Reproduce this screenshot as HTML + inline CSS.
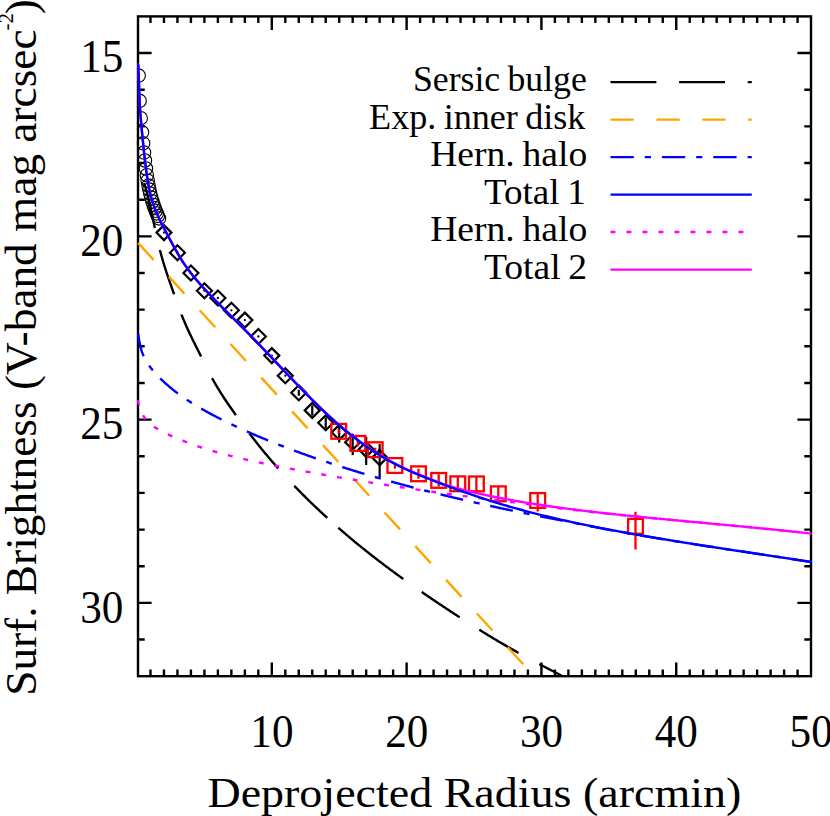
<!DOCTYPE html>
<html><head><meta charset="utf-8"><title>Surface brightness profile</title><style>html,body{margin:0;padding:0;background:#fff}</style></head><body>
<svg width="830" height="816" viewBox="0 0 830 816" style="display:block;font-family:'Liberation Serif',serif">
<rect width="830" height="816" fill="#fff"/>
<defs><clipPath id="cp"><rect x="136.9" y="16.4" width="675.2" height="659.8000000000001"/></clipPath></defs>
<g stroke="#000" stroke-width="2.4" fill="none">
<rect x="138.0" y="16.4" width="673.0" height="659.8000000000001"/>
<path d="M150.48,676.2 v-6.7 M150.48,16.4 v6.7 M163.96,676.2 v-6.7 M163.96,16.4 v6.7 M177.44,676.2 v-6.7 M177.44,16.4 v6.7 M190.92,676.2 v-6.7 M190.92,16.4 v6.7 M204.41,676.2 v-6.7 M204.41,16.4 v6.7 M217.89,676.2 v-6.7 M217.89,16.4 v6.7 M231.37,676.2 v-6.7 M231.37,16.4 v6.7 M244.85,676.2 v-6.7 M244.85,16.4 v6.7 M258.33,676.2 v-6.7 M258.33,16.4 v6.7 M271.81,676.2 v-13.6 M271.81,16.4 v13.6 M285.29,676.2 v-6.7 M285.29,16.4 v6.7 M298.77,676.2 v-6.7 M298.77,16.4 v6.7 M312.25,676.2 v-6.7 M312.25,16.4 v6.7 M325.73,676.2 v-6.7 M325.73,16.4 v6.7 M339.22,676.2 v-6.7 M339.22,16.4 v6.7 M352.70,676.2 v-6.7 M352.70,16.4 v6.7 M366.18,676.2 v-6.7 M366.18,16.4 v6.7 M379.66,676.2 v-6.7 M379.66,16.4 v6.7 M393.14,676.2 v-6.7 M393.14,16.4 v6.7 M406.62,676.2 v-13.6 M406.62,16.4 v13.6 M420.10,676.2 v-6.7 M420.10,16.4 v6.7 M433.58,676.2 v-6.7 M433.58,16.4 v6.7 M447.06,676.2 v-6.7 M447.06,16.4 v6.7 M460.54,676.2 v-6.7 M460.54,16.4 v6.7 M474.02,676.2 v-6.7 M474.02,16.4 v6.7 M487.51,676.2 v-6.7 M487.51,16.4 v6.7 M500.99,676.2 v-6.7 M500.99,16.4 v6.7 M514.47,676.2 v-6.7 M514.47,16.4 v6.7 M527.95,676.2 v-6.7 M527.95,16.4 v6.7 M541.43,676.2 v-13.6 M541.43,16.4 v13.6 M554.91,676.2 v-6.7 M554.91,16.4 v6.7 M568.39,676.2 v-6.7 M568.39,16.4 v6.7 M581.87,676.2 v-6.7 M581.87,16.4 v6.7 M595.35,676.2 v-6.7 M595.35,16.4 v6.7 M608.84,676.2 v-6.7 M608.84,16.4 v6.7 M622.32,676.2 v-6.7 M622.32,16.4 v6.7 M635.80,676.2 v-6.7 M635.80,16.4 v6.7 M649.28,676.2 v-6.7 M649.28,16.4 v6.7 M662.76,676.2 v-6.7 M662.76,16.4 v6.7 M676.24,676.2 v-13.6 M676.24,16.4 v13.6 M689.72,676.2 v-6.7 M689.72,16.4 v6.7 M703.20,676.2 v-6.7 M703.20,16.4 v6.7 M716.68,676.2 v-6.7 M716.68,16.4 v6.7 M730.16,676.2 v-6.7 M730.16,16.4 v6.7 M743.64,676.2 v-6.7 M743.64,16.4 v6.7 M757.13,676.2 v-6.7 M757.13,16.4 v6.7 M770.61,676.2 v-6.7 M770.61,16.4 v6.7 M784.09,676.2 v-6.7 M784.09,16.4 v6.7 M797.57,676.2 v-6.7 M797.57,16.4 v6.7 M138.0,53.06 h13.6 M811.0,53.06 h-13.6 M138.0,89.71 h6.7 M811.0,89.71 h-6.7 M138.0,126.37 h6.7 M811.0,126.37 h-6.7 M138.0,163.02 h6.7 M811.0,163.02 h-6.7 M138.0,199.68 h6.7 M811.0,199.68 h-6.7 M138.0,236.33 h13.6 M811.0,236.33 h-13.6 M138.0,272.99 h6.7 M811.0,272.99 h-6.7 M138.0,309.64 h6.7 M811.0,309.64 h-6.7 M138.0,346.30 h6.7 M811.0,346.30 h-6.7 M138.0,382.96 h6.7 M811.0,382.96 h-6.7 M138.0,419.61 h13.6 M811.0,419.61 h-13.6 M138.0,456.27 h6.7 M811.0,456.27 h-6.7 M138.0,492.92 h6.7 M811.0,492.92 h-6.7 M138.0,529.58 h6.7 M811.0,529.58 h-6.7 M138.0,566.23 h6.7 M811.0,566.23 h-6.7 M138.0,602.89 h13.6 M811.0,602.89 h-13.6 M138.0,639.54 h6.7 M811.0,639.54 h-6.7"/>
</g>
<g clip-path="url(#cp)" fill="none">
<g stroke="#000" stroke-width="1.1">
<circle cx="138.69" cy="75.60" r="6.7"/>
<circle cx="139.63" cy="100.80" r="6.7"/>
<circle cx="140.75" cy="118.20" r="6.7"/>
<circle cx="142.02" cy="132.30" r="6.7"/>
<circle cx="143.10" cy="143.30" r="6.7"/>
<circle cx="144.08" cy="152.60" r="6.7"/>
<circle cx="144.96" cy="160.50" r="6.7"/>
<circle cx="145.94" cy="168.50" r="6.7"/>
<circle cx="146.85" cy="175.20" r="6.7"/>
<circle cx="147.69" cy="180.70" r="6.7"/>
<circle cx="148.54" cy="185.60" r="6.7"/>
<circle cx="149.33" cy="189.60" r="6.7"/>
<circle cx="150.23" cy="193.60" r="6.7"/>
<circle cx="151.26" cy="197.60" r="6.7"/>
<circle cx="152.41" cy="201.50" r="6.7"/>
<circle cx="153.57" cy="205.00" r="6.7"/>
<circle cx="154.65" cy="208.00" r="6.7"/>
<circle cx="155.73" cy="210.80" r="6.7"/>
<circle cx="156.79" cy="213.40" r="6.7"/>
<circle cx="157.87" cy="215.90" r="6.7"/>
<circle cx="159.00" cy="218.40" r="6.7"/>
</g>
<g stroke="#000" stroke-width="2.2" stroke-linejoin="miter">
<path d="M156.46,232.60 L163.96,225.10 L171.46,232.60 L163.96,240.10 Z"/>
<circle cx="163.96" cy="232.60" r="1.15" fill="#000" stroke="none"/>
<path d="M169.94,252.70 L177.44,245.20 L184.94,252.70 L177.44,260.20 Z"/>
<circle cx="177.44" cy="252.70" r="1.15" fill="#000" stroke="none"/>
<path d="M183.42,273.00 L190.92,265.50 L198.42,273.00 L190.92,280.50 Z"/>
<circle cx="190.92" cy="273.00" r="1.15" fill="#000" stroke="none"/>
<path d="M196.91,290.70 L204.41,283.20 L211.91,290.70 L204.41,298.20 Z"/>
<circle cx="204.41" cy="290.70" r="1.15" fill="#000" stroke="none"/>
<path d="M210.39,298.00 L217.89,290.50 L225.39,298.00 L217.89,305.50 Z"/>
<circle cx="217.89" cy="298.00" r="1.15" fill="#000" stroke="none"/>
<path d="M223.87,310.30 L231.37,302.80 L238.87,310.30 L231.37,317.80 Z"/>
<circle cx="231.37" cy="310.30" r="1.15" fill="#000" stroke="none"/>
<path d="M237.35,320.10 L244.85,312.60 L252.35,320.10 L244.85,327.60 Z"/>
<circle cx="244.85" cy="320.10" r="1.15" fill="#000" stroke="none"/>
<path d="M250.83,336.50 L258.33,329.00 L265.83,336.50 L258.33,344.00 Z"/>
<circle cx="258.33" cy="336.50" r="1.15" fill="#000" stroke="none"/>
<path d="M264.31,355.60 L271.81,348.10 L279.31,355.60 L271.81,363.10 Z"/>
<circle cx="271.81" cy="355.60" r="1.15" fill="#000" stroke="none"/>
<path d="M277.79,375.70 L285.29,368.20 L292.79,375.70 L285.29,383.20 Z"/>
<circle cx="285.29" cy="375.70" r="1.15" fill="#000" stroke="none"/>
<path d="M291.27,392.80 L298.77,385.30 L306.27,392.80 L298.77,400.30 Z"/>
<path d="M298.77,389.80 V395.80"/>
<path d="M304.75,410.40 L312.25,402.90 L319.75,410.40 L312.25,417.90 Z"/>
<path d="M312.25,405.40 V415.60"/>
<path d="M318.23,422.70 L325.73,415.20 L333.23,422.70 L325.73,430.20 Z"/>
<path d="M325.73,417.40 V428.60"/>
<path d="M331.72,432.40 L339.22,424.90 L346.72,432.40 L339.22,439.90 Z"/>
<path d="M339.22,426.50 V442.60"/>
<path d="M345.20,442.20 L352.70,434.70 L360.20,442.20 L352.70,449.70 Z"/>
<path d="M352.70,436.00 V455.10"/>
<path d="M358.68,449.40 L366.18,441.90 L373.68,449.40 L366.18,456.90 Z"/>
<path d="M366.18,436.80 V465.00"/>
<path d="M372.16,457.60 L379.66,450.10 L387.16,457.60 L379.66,465.10 Z"/>
<path d="M379.66,444.10 V477.90"/>
</g>
<g stroke="#f00" stroke-width="2.3">
<rect x="331.30" y="423.90" width="14.8" height="14.8"/>
<path d="M338.70,429.30 V433.30"/>
<rect x="350.50" y="436.00" width="14.8" height="14.8"/>
<path d="M357.90,440.40 V446.40"/>
<rect x="367.80" y="442.30" width="14.8" height="14.8"/>
<path d="M375.20,447.70 V451.70"/>
<rect x="387.50" y="458.10" width="14.8" height="14.8"/>
<path d="M394.90,462.30 V468.70"/>
<rect x="411.10" y="466.40" width="14.8" height="14.8"/>
<path d="M418.50,468.80 V478.80"/>
<rect x="431.30" y="473.00" width="14.8" height="14.8"/>
<path d="M438.70,474.20 V486.60"/>
<rect x="450.40" y="476.40" width="14.8" height="14.8"/>
<path d="M457.80,476.80 V490.80"/>
<rect x="469.00" y="476.50" width="14.8" height="14.8"/>
<path d="M476.40,476.90 V490.90"/>
<rect x="490.90" y="486.40" width="14.8" height="14.8"/>
<path d="M498.30,486.50 V501.30"/>
<rect x="530.30" y="493.10" width="14.8" height="14.8"/>
<path d="M537.70,492.70 V511.60"/>
<rect x="628.10" y="518.90" width="14.8" height="14.8"/>
<path d="M635.50,511.80 V549.60"/>
</g>
<g stroke="#000" stroke-width="2.4">
<path d="M143.70,183.04 L143.90,183.37 L144.10,183.74 L144.31,184.16 L144.51,184.63 L144.72,185.14 L144.94,185.69 L145.15,186.28 L145.37,186.91 L145.59,187.58 L145.81,188.29 L146.04,189.04 L146.27,189.82 L146.50,190.64 L146.73,191.49 L146.97,192.38 L147.20,193.30 L147.44,194.25 L147.69,195.24 L147.93,196.25 L148.18,197.29 L148.43,198.36 L148.69,199.45 L148.94,200.58 L149.20,201.72 L149.46,202.89 L149.73,204.09 L149.99,205.30 L150.26,206.54 L150.53,207.80 L150.81,209.07 L151.08,210.37 L151.36,211.68 L151.64,213.01 L151.93,214.35 L152.22,215.71 L152.51,217.08 L152.80,218.46 L153.09,219.86 L153.39,221.27 L153.69,222.68 L153.99,224.10 L154.30,225.54 L154.60,226.97 L154.80,227.89"/>
<path d="M159.90,250.00 L160.22,251.23 L160.57,252.57 L160.93,253.90 L161.29,255.21 L161.65,256.51 L162.01,257.80 L162.38,259.07 L162.75,260.34 L163.12,261.60 L163.49,262.84 L163.87,264.08 L164.25,265.31 L164.63,266.53 L165.01,267.75 L165.40,268.96 L165.79,270.16 L166.18,271.37 L166.57,272.56 L166.97,273.76 L167.37,274.95 L167.77,276.14 L168.18,277.32 L168.58,278.51 L168.99,279.70 L169.41,280.89 L169.82,282.08 L170.24,283.28 L170.66,284.47 L171.08,285.68 L171.51,286.88 L171.93,288.09 L172.36,289.31 L172.80,290.53 L173.23,291.77 L173.67,293.01 L174.10,294.23"/>
<path d="M181.50,314.59 L181.50,314.60 L181.99,315.83 L182.47,317.04 L182.96,318.24 L183.45,319.44 L183.95,320.62 L184.44,321.79 L184.94,322.96 L185.45,324.12 L185.95,325.26 L186.46,326.41 L186.97,327.54 L187.48,328.67 L187.99,329.79 L188.51,330.91 L189.03,332.03 L189.55,333.14 L190.08,334.25 L190.60,335.35 L191.13,336.45 L191.67,337.55 L192.20,338.65 L192.74,339.75 L193.28,340.85 L193.82,341.95 L194.37,343.05 L194.92,344.15 L195.47,345.26 L196.02,346.37 L196.58,347.48 L197.13,348.59 L197.69,349.71 L198.26,350.83 L198.82,351.96 L199.39,353.10 L199.96,354.24 L200.54,355.39 L201.10,356.53"/>
<path d="M212.10,378.16 L212.54,378.97 L213.17,380.11 L213.80,381.23 L214.43,382.35 L215.07,383.46 L215.70,384.55 L216.34,385.65 L216.99,386.73 L217.63,387.81 L218.28,388.88 L218.93,389.94 L219.58,390.99 L220.24,392.04 L220.90,393.09 L221.56,394.13 L222.22,395.16 L222.88,396.19 L223.55,397.21 L224.22,398.23 L224.90,399.25 L225.57,400.26 L226.25,401.27 L226.93,402.28 L227.62,403.28 L228.30,404.29 L228.99,405.29 L229.68,406.28 L230.38,407.28 L231.07,408.28 L231.77,409.27 L232.47,410.27 L233.18,411.26 L233.88,412.26 L234.59,413.26 L235.30,414.25 L235.90,415.09"/>
<path d="M249.40,433.46 L250.07,434.35 L250.84,435.35 L251.61,436.35 L252.38,437.34 L253.15,438.34 L253.93,439.34 L254.70,440.33 L255.49,441.32 L256.27,442.32 L257.05,443.31 L257.84,444.30 L258.63,445.28 L259.43,446.27 L260.22,447.26 L261.02,448.24 L261.82,449.22 L262.63,450.21 L263.43,451.19 L264.24,452.17 L265.05,453.15 L265.87,454.12 L266.69,455.10 L267.50,456.07 L268.33,457.05 L269.15,458.02 L269.98,458.99 L270.81,459.96 L271.64,460.93 L272.47,461.90 L273.31,462.86 L274.15,463.83 L274.99,464.79 L275.84,465.76 L276.68,466.72 L277.53,467.68 L278.30,468.54"/>
<path d="M294.30,485.85 L295.07,486.65 L295.97,487.58 L296.88,488.52 L297.79,489.45 L298.70,490.38 L299.61,491.32 L300.53,492.25 L301.45,493.18 L302.37,494.11 L303.29,495.03 L304.22,495.96 L305.15,496.89 L306.08,497.81 L307.02,498.73 L307.95,499.66 L308.89,500.58 L309.83,501.50 L310.78,502.42 L311.73,503.33 L312.68,504.25 L313.63,505.17 L314.58,506.08 L315.54,506.99 L316.50,507.91 L317.46,508.82 L318.43,509.73 L319.39,510.64 L320.36,511.55 L321.34,512.45 L322.31,513.36 L323.29,514.27 L324.27,515.17 L325.25,516.07 L326.24,516.98 L327.23,517.88 L327.30,517.94"/>
<path d="M338.30,527.75 L339.28,528.61 L340.31,529.50 L341.33,530.39 L342.36,531.27 L343.38,532.16 L344.42,533.04 L345.45,533.92 L346.49,534.81 L347.53,535.69 L348.57,536.57 L349.61,537.45 L350.66,538.33 L351.71,539.20 L352.76,540.08 L353.82,540.95 L354.87,541.83 L355.93,542.70 L356.99,543.58 L358.06,544.45 L359.13,545.32 L360.20,546.19 L361.27,547.06 L362.34,547.93 L363.42,548.79 L364.50,549.66 L365.59,550.53 L366.67,551.39 L367.76,552.25 L368.85,553.12 L369.94,553.98 L371.04,554.84 L372.14,555.70 L373.24,556.56 L374.34,557.42 L375.45,558.28 L376.55,559.13 L377.66,559.99 L378.78,560.85 L379.89,561.70 L381.01,562.55 L382.13,563.41 L383.26,564.26 L384.38,565.11 L385.51,565.96 L386.64,566.81 L387.78,567.66 L388.91,568.51 L390.05,569.35 L391.20,570.20 L392.34,571.04 L393.49,571.89 L394.64,572.73 L395.79,573.58 L396.94,574.42 L398.10,575.26 L399.26,576.10 L400.42,576.94 L401.59,577.78 L402.75,578.62 L403.30,579.02"/>
<path d="M421.70,591.94 L421.78,591.99 L422.99,592.83 L424.20,593.66 L425.42,594.49 L426.63,595.32 L427.86,596.16 L429.08,596.99 L430.31,597.82 L431.53,598.65 L432.76,599.49 L434.00,600.32 L435.24,601.15 L436.47,601.98 L437.72,602.81 L438.96,603.65 L440.21,604.48 L441.46,605.31 L442.71,606.14 L443.96,606.98 L445.22,607.81 L446.48,608.64 L447.74,609.48 L449.00,610.31 L450.27,611.15 L451.54,611.98 L452.81,612.81 L454.09,613.65 L455.36,614.48 L456.64,615.32 L457.93,616.15 L459.21,616.99 L459.70,617.31"/>
<path d="M479.30,629.77 L480.12,630.28 L481.45,631.10 L482.78,631.93 L484.11,632.75 L485.45,633.57 L486.79,634.38 L488.13,635.20 L489.47,636.02 L490.82,636.83 L492.17,637.64 L493.52,638.45 L494.87,639.26 L496.23,640.06 L497.59,640.87 L498.95,641.67 L500.31,642.47 L501.68,643.27 L503.05,644.07 L504.42,644.86 L505.80,645.66 L507.17,646.45 L508.55,647.24 L509.94,648.03 L511.32,648.81 L512.71,649.60 L514.10,650.38 L515.49,651.16 L516.89,651.94 L518.28,652.72 L518.50,652.84"/>
<path d="M539.30,664.11 L539.55,664.24 L540.99,665.00 L542.43,665.76 L543.88,666.52 L545.32,667.28 L546.77,668.03 L548.22,668.79 L549.68,669.54 L551.13,670.29 L552.59,671.05 L554.05,671.80 L555.52,672.55 L556.98,673.30 L558.45,674.05 L559.93,674.80 L561.40,675.55 L561.40,675.55"/>
</g>
<path d="M138.1,242.9 L534.17,676.2" stroke="#ffa500" stroke-width="2.4" stroke-dasharray="23.0 22.65"/>
<path d="M138.20,333.79 L138.34,334.92 L138.49,336.01 L138.65,337.08 L138.81,338.13 L138.97,339.15 L139.14,340.14 L139.31,341.12 L139.49,342.06 L139.67,342.99 L139.86,343.89 L140.05,344.77 L140.24,345.64 L140.44,346.48 L140.65,347.30 L140.86,348.10 L141.07,348.88 L141.29,349.64 L141.51,350.39 L141.74,351.11 L141.97,351.83 L142.21,352.52 L142.45,353.20 L142.70,353.87 L142.95,354.52 L143.21,355.15 L143.47,355.78 L143.73,356.39 L144.00,356.99 L144.28,357.57 L144.55,358.15 L144.84,358.71 L145.13,359.27 L145.42,359.81 L145.72,360.35 L146.02,360.88 L146.32,361.40 L146.64,361.92 L146.95,362.42 L147.27,362.92 L147.60,363.42 L147.93,363.91 L148.26,364.40 L148.60,364.88 L148.94,365.36 L149.29,365.84 L149.64,366.31 L150.00,366.78 L150.36,367.26 L150.73,367.73 L151.10,368.20 L151.48,368.67 L151.86,369.14 L152.24,369.61 L152.63,370.09 L153.03,370.56 L153.42,371.03 L153.83,371.50 L154.24,371.98 L154.65,372.45 L155.07,372.92 L155.49,373.39 L155.91,373.87 L156.35,374.34 L156.78,374.81 L157.22,375.29 L157.67,375.76 L158.12,376.23 L158.57,376.70 L159.03,377.18 L159.49,377.65 L159.96,378.12 L160.43,378.59 L160.91,379.07 L161.39,379.54 L161.88,380.01 L162.37,380.48 L162.87,380.95 L163.37,381.42 L163.87,381.90 L164.38,382.37 L164.90,382.84 L165.42,383.31 L165.94,383.78 L166.47,384.25 L167.00,384.72 L167.54,385.19 L168.08,385.65 L168.63,386.12 L169.18,386.59 L169.73,387.06 L170.29,387.53 L170.86,387.99 L171.43,388.46 L172.00,388.92 L172.58,389.39 L173.17,389.86 L173.75,390.32 L174.35,390.78 L174.94,391.25 L175.55,391.71 L176.15,392.17 L176.76,392.63 L177.38,393.10 L178.00,393.56 L178.63,394.02 L179.26,394.48 L179.89,394.94 L180.53,395.39 L181.17,395.85 L181.82,396.31 L182.47,396.77 L183.13,397.22 L183.79,397.68 L184.46,398.14 L185.13,398.59 L185.81,399.05 L186.49,399.50 L187.17,399.95 L187.86,400.41 L188.56,400.86 L189.26,401.31 L189.96,401.77 L190.67,402.22 L191.38,402.67 L192.10,403.12 L192.82,403.57 L193.55,404.02 L194.28,404.47 L195.02,404.92 L195.76,405.37 L196.50,405.82 L197.25,406.27 L198.01,406.72 L198.77,407.17 L199.53,407.62 L200.30,408.07 L201.07,408.52 L201.85,408.96 L202.63,409.41 L203.42,409.86 L204.21,410.31 L205.00,410.75 L205.80,411.20 L206.61,411.65 L207.42,412.09 L208.23,412.54 L209.05,412.99 L209.88,413.43 L210.71,413.88 L211.54,414.32 L212.38,414.77 L213.22,415.22 L214.07,415.66 L214.92,416.11 L215.77,416.55 L216.63,417.00 L217.50,417.45 L218.37,417.89 L219.24,418.34 L220.12,418.78 L221.01,419.23 L221.90,419.68 L222.79,420.12 L223.69,420.57 L224.59,421.01 L225.49,421.46 L226.41,421.91 L227.32,422.35 L228.24,422.80 L229.17,423.24 L230.10,423.69 L231.03,424.14 L231.97,424.59 L232.92,425.03 L233.86,425.48 L234.82,425.93 L235.78,426.37 L236.74,426.82 L237.70,427.27 L238.68,427.72 L239.65,428.17 L240.63,428.62 L241.62,429.06 L242.61,429.51 L243.60,429.96 L244.60,430.41 L245.61,430.86 L246.61,431.31 L247.63,431.76 L248.65,432.21 L249.67,432.66 L250.69,433.11 L251.73,433.56 L252.76,434.01 L253.80,434.46 L254.85,434.91 L255.90,435.36 L256.95,435.81 L258.01,436.26 L259.08,436.71 L260.15,437.16 L261.22,437.61 L262.30,438.06 L263.38,438.51 L264.47,438.96 L265.56,439.41 L266.65,439.86 L267.75,440.31 L268.86,440.76 L269.97,441.21 L271.08,441.66 L272.20,442.11 L273.33,442.56 L274.46,443.01 L275.59,443.46 L276.73,443.91 L277.87,444.36 L279.02,444.81 L280.17,445.26 L281.33,445.71 L282.49,446.16 L283.65,446.61 L284.82,447.06 L286.00,447.51 L287.18,447.96 L288.36,448.40 L289.55,448.85 L290.74,449.30 L291.94,449.75 L293.14,450.20 L294.35,450.65 L295.56,451.10 L296.78,451.54 L298.00,451.99 L299.22,452.44 L300.45,452.89 L301.69,453.33 L302.93,453.78 L304.17,454.23 L305.42,454.67 L306.67,455.12 L307.93,455.57 L309.19,456.01 L310.46,456.46 L311.73,456.91 L313.01,457.35 L314.29,457.80 L315.58,458.24 L316.87,458.69 L318.16,459.13 L319.46,459.57 L320.76,460.02 L322.07,460.46 L323.39,460.90 L324.70,461.35 L326.03,461.79 L327.35,462.23 L328.69,462.67 L330.02,463.12 L331.36,463.56 L332.71,464.00 L334.06,464.44 L335.41,464.88 L336.77,465.32 L338.14,465.76 L339.51,466.20 L340.88,466.64 L342.26,467.08 L343.64,467.51 L345.03,467.95 L346.42,468.39 L347.82,468.83 L349.22,469.26 L350.62,469.70 L352.03,470.14 L353.45,470.57 L354.87,471.01 L356.29,471.44 L357.72,471.87 L359.15,472.31 L360.59,472.74 L362.03,473.18 L363.48,473.61 L364.93,474.04 L366.39,474.47 L367.85,474.90 L369.32,475.33 L370.79,475.77 L372.26,476.20 L373.74,476.63 L375.23,477.05 L376.71,477.48 L378.21,477.91 L379.71,478.34 L381.21,478.77 L382.72,479.20 L384.23,479.62 L385.74,480.05 L387.26,480.47 L388.79,480.90 L390.32,481.33 L391.86,481.75 L393.40,482.17 L394.94,482.60 L396.49,483.02 L398.04,483.44 L399.60,483.87 L401.16,484.29 L402.73,484.71 L404.30,485.13 L405.88,485.55 L407.46,485.97 L409.05,486.39 L410.64,486.81 L412.23,487.23 L413.83,487.65 L415.43,488.07 L417.04,488.49 L418.66,488.90 L420.28,489.32 L421.90,489.74 L423.53,490.15 L425.16,490.57 L426.79,490.98 L428.44,491.40 L430.08,491.81 L431.73,492.22 L433.39,492.64 L435.05,493.05 L436.71,493.46 L438.38,493.87 L440.05,494.28 L441.73,494.69 L443.41,495.10 L445.10,495.51 L446.79,495.92 L448.49,496.33 L450.19,496.74 L451.90,497.15 L453.61,497.55 L455.32,497.96 L457.04,498.37 L458.77,498.77 L460.50,499.18 L462.23,499.58 L463.97,499.98 L465.71,500.39 L467.46,500.79 L469.21,501.19 L470.97,501.60 L472.73,502.00 L474.49,502.40 L476.26,502.80 L478.04,503.20 L479.82,503.60 L481.60,504.00 L483.39,504.40 L485.19,504.79 L486.98,505.19 L488.79,505.59 L490.59,505.98 L492.41,506.38 L494.22,506.78 L496.04,507.17 L497.87,507.56 L499.70,507.96 L501.54,508.35 L503.38,508.74 L505.22,509.14 L507.07,509.53 L508.92,509.92 L510.78,510.31 L512.64,510.70 L514.51,511.09 L516.38,511.48 L518.26,511.87 L520.14,512.25 L522.03,512.64 L523.92,513.03 L525.81,513.41 L527.71,513.80 L529.62,514.18 L531.53,514.57 L533.44,514.95 L535.36,515.34 L537.28,515.72 L539.21,516.10 L541.14,516.48 L543.08,516.86 L545.02,517.24 L546.97,517.62 L548.92,518.00 L550.87,518.38 L552.83,518.76 L554.80,519.14 L556.76,519.51 L558.74,519.89 L560.72,520.27 L562.70,520.64 L562.72,520.64 L564.76,521.07 L566.81,521.50 L568.86,521.92 L570.92,522.35 L572.98,522.77 L575.05,523.19 L577.12,523.61 L579.20,524.03 L581.28,524.45 L583.37,524.87 L585.46,525.28 L587.56,525.69 L589.66,526.11 L591.77,526.52 L593.88,526.92 L596.00,527.33 L598.12,527.74 L600.24,528.14 L602.37,528.55 L604.51,528.95 L606.65,529.35 L608.80,529.75 L610.95,530.15 L613.10,530.54 L615.26,530.94 L617.43,531.33 L619.60,531.72 L621.77,532.12 L623.95,532.51 L626.14,532.90 L628.33,533.28 L630.52,533.67 L632.72,534.06 L634.93,534.44 L637.14,534.82 L639.35,535.21 L641.57,535.59 L643.79,535.97 L646.02,536.35 L648.26,536.72 L650.50,537.10 L652.74,537.48 L654.99,537.85 L657.24,538.23 L659.50,538.60 L661.76,538.97 L664.03,539.35 L666.30,539.72 L668.58,540.09 L670.86,540.46 L673.15,540.83 L675.44,541.20 L677.74,541.57 L680.04,541.94 L682.35,542.30 L684.66,542.67 L686.98,543.04 L689.30,543.40 L691.63,543.77 L693.96,544.13 L696.29,544.50 L698.63,544.86 L700.98,545.23 L703.33,545.59 L705.69,545.96 L708.05,546.32 L710.41,546.69 L712.78,547.05 L715.16,547.42 L717.54,547.78 L719.92,548.15 L722.31,548.51 L724.71,548.87 L727.11,549.24 L729.51,549.60 L731.92,549.97 L734.34,550.34 L736.75,550.70 L739.18,551.07 L741.61,551.44 L744.04,551.80 L746.48,552.17 L748.92,552.54 L751.37,552.91 L753.83,553.28 L756.28,553.65 L758.75,554.02 L761.22,554.39 L763.69,554.77 L766.17,555.14 L768.65,555.51 L771.14,555.89 L773.63,556.27 L776.13,556.64 L778.63,557.02 L781.13,557.40 L783.65,557.78 L786.16,558.16 L788.69,558.54 L791.21,558.93 L793.74,559.31 L796.28,559.70 L798.82,560.09 L801.37,560.48 L803.92,560.87 L806.47,561.26 L809.03,561.65 L811.60,562.05" stroke="#00f" stroke-width="2.4" stroke-dasharray="23.2 10.9 6 10.9"/>
<path d="M137.97,400.28 L138.10,400.95 L138.24,401.61 L138.37,402.26 L138.52,402.90 L138.66,403.53 L138.81,404.15 L138.96,404.75 L139.12,405.35 L139.28,405.94 L139.45,406.51 L139.62,407.08 L139.79,407.64 L139.97,408.18 L140.15,408.72 L140.34,409.25 L140.53,409.77 L140.73,410.28 L140.92,410.78 L141.13,411.27 L141.33,411.76 L141.54,412.23 L141.76,412.70 L141.98,413.16 L142.20,413.62 L142.43,414.06 L142.66,414.50 L142.90,414.93 L143.13,415.35 L143.38,415.76 L143.63,416.17 L143.88,416.57 L144.13,416.97 L144.39,417.36 L144.66,417.74 L144.93,418.12 L145.20,418.49 L145.47,418.85 L145.75,419.21 L146.04,419.56 L146.33,419.91 L146.62,420.25 L146.92,420.59 L147.22,420.92 L147.52,421.24 L147.83,421.57 L148.14,421.88 L148.46,422.20 L148.78,422.50 L149.11,422.81 L149.44,423.11 L149.77,423.41 L150.11,423.70 L150.45,423.99 L150.80,424.28 L151.14,424.56 L151.50,424.84 L151.86,425.12 L152.22,425.39 L152.58,425.67 L152.96,425.94 L153.33,426.20 L153.71,426.47 L154.09,426.73 L154.48,426.99 L154.87,427.25 L155.26,427.51 L155.66,427.77 L156.06,428.02 L156.47,428.28 L156.88,428.53 L157.30,428.78 L157.72,429.03 L158.14,429.28 L158.57,429.53 L159.00,429.78 L159.43,430.03 L159.87,430.27 L160.32,430.52 L160.77,430.76 L161.22,431.01 L161.67,431.25 L162.13,431.49 L162.60,431.74 L163.07,431.98 L163.54,432.22 L164.02,432.46 L164.50,432.70 L164.98,432.94 L165.47,433.18 L165.96,433.42 L166.46,433.66 L166.96,433.90 L167.47,434.14 L167.97,434.38 L168.49,434.62 L169.01,434.86 L169.53,435.10 L170.05,435.35 L170.58,435.59 L171.12,435.83 L171.65,436.07 L172.20,436.31 L172.74,436.56 L173.29,436.80 L173.85,437.04 L174.40,437.29 L174.97,437.53 L175.53,437.77 L176.10,438.02 L176.68,438.26 L177.26,438.50 L177.84,438.75 L178.43,438.99 L179.02,439.24 L179.61,439.48 L180.21,439.72 L180.81,439.97 L181.42,440.21 L182.03,440.46 L182.65,440.70 L183.27,440.95 L183.89,441.19 L184.52,441.44 L185.15,441.68 L185.79,441.92 L186.43,442.17 L187.07,442.41 L187.72,442.66 L188.37,442.90 L189.03,443.15 L189.69,443.39 L190.35,443.63 L191.02,443.88 L191.69,444.12 L192.37,444.36 L193.05,444.61 L193.74,444.85 L194.43,445.09 L195.12,445.33 L195.82,445.58 L196.52,445.82 L197.22,446.06 L197.93,446.30 L198.65,446.54 L199.36,446.78 L200.08,447.02 L200.81,447.26 L201.54,447.50 L202.27,447.74 L203.01,447.98 L203.75,448.22 L204.50,448.46 L205.25,448.69 L206.01,448.93 L206.76,449.17 L207.53,449.41 L208.29,449.64 L209.06,449.88 L209.84,450.11 L210.62,450.35 L211.40,450.58 L212.19,450.82 L212.98,451.05 L213.77,451.28 L214.57,451.51 L215.38,451.74 L216.19,451.98 L217.00,452.21 L217.81,452.44 L218.63,452.66 L219.46,452.89 L220.28,453.12 L221.12,453.35 L221.95,453.58 L222.79,453.80 L223.64,454.03 L224.49,454.26 L225.34,454.48 L226.19,454.71 L227.06,454.93 L227.92,455.15 L228.79,455.38 L229.66,455.60 L230.54,455.82 L231.42,456.05 L232.31,456.27 L233.19,456.49 L234.09,456.71 L234.99,456.93 L235.89,457.15 L236.79,457.37 L237.70,457.59 L238.62,457.81 L239.53,458.03 L240.46,458.25 L241.38,458.47 L242.31,458.68 L243.25,458.90 L244.18,459.12 L245.13,459.34 L246.07,459.55 L247.02,459.77 L247.98,459.98 L248.94,460.20 L249.90,460.42 L250.87,460.63 L251.84,460.85 L252.81,461.06 L253.79,461.28 L254.78,461.49 L255.76,461.71 L256.75,461.92 L257.75,462.13 L258.75,462.35 L259.75,462.56 L260.76,462.77 L261.77,462.99 L262.79,463.20 L263.81,463.41 L264.83,463.63 L265.86,463.84 L266.89,464.05 L267.93,464.26 L268.97,464.48 L270.02,464.69 L271.06,464.90 L272.12,465.11 L273.17,465.33 L274.23,465.54 L275.30,465.75 L276.37,465.96 L277.44,466.17 L278.52,466.39 L279.60,466.60 L280.69,466.81 L281.78,467.02 L282.87,467.23 L283.97,467.44 L285.07,467.66 L286.18,467.87 L287.29,468.08 L288.40,468.29 L289.52,468.50 L290.64,468.72 L291.77,468.93 L292.90,469.14 L294.03,469.35 L295.17,469.57 L296.31,469.78 L297.46,469.99 L298.61,470.20 L299.76,470.42 L300.92,470.63 L302.09,470.84 L303.25,471.06 L304.43,471.27 L305.60,471.48 L306.78,471.70 L307.96,471.91 L309.15,472.12 L310.34,472.34 L311.54,472.55 L312.74,472.77 L313.94,472.98 L315.15,473.20 L316.36,473.41 L317.58,473.63 L318.80,473.84 L320.02,474.06 L321.25,474.28 L322.49,474.49 L323.72,474.71 L324.96,474.92 L326.21,475.14 L327.46,475.36 L328.71,475.57 L329.97,475.79 L331.23,476.01 L332.49,476.22 L333.76,476.44 L335.04,476.66 L336.31,476.88 L337.60,477.09 L338.88,477.31 L340.17,477.53 L341.46,477.75 L342.76,477.97 L344.06,478.18 L345.37,478.40 L346.68,478.62 L348.00,478.84 L349.31,479.06 L350.64,479.28 L351.96,479.50 L353.29,479.72 L354.63,479.93 L355.97,480.15 L357.31,480.37 L358.66,480.59 L360.01,480.81 L361.36,481.03 L362.72,481.25 L364.09,481.47 L365.45,481.69 L366.83,481.91 L368.20,482.13 L369.58,482.35 L370.96,482.57 L372.35,482.79 L373.74,483.01 L375.14,483.23 L376.54,483.45 L377.94,483.67 L379.35,483.89 L380.77,484.11 L382.18,484.33 L383.60,484.55 L385.03,484.77 L386.46,484.99 L387.89,485.21 L389.33,485.43 L390.77,485.65 L392.21,485.87 L393.66,486.09 L395.11,486.31 L396.57,486.53 L398.03,486.75 L399.50,486.97 L400.97,487.19 L402.44,487.41 L403.92,487.63 L405.40,487.85 L406.89,488.07 L408.38,488.29 L409.87,488.51 L411.37,488.73 L412.87,488.95 L414.38,489.17 L415.89,489.39 L417.40,489.61 L418.92,489.83 L420.45,490.05 L421.97,490.27 L423.50,490.49 L425.04,490.71 L426.58,490.93 L428.12,491.15 L429.67,491.37 L431.22,491.59 L432.78,491.81 L434.33,492.03 L435.90,492.25 L437.47,492.46 L439.04,492.68 L440.61,492.90 L442.19,493.12 L443.78,493.34 L445.37,493.56 L446.96,493.78 L448.55,493.99 L450.16,494.21 L451.76,494.43 L453.37,494.65 L454.98,494.87 L456.60,495.08 L458.22,495.30 L459.84,495.52 L461.47,495.74 L463.11,495.95 L464.74,496.17 L466.38,496.39 L468.03,496.61 L469.68,496.82 L471.33,497.04 L472.99,497.26 L474.65,497.47 L476.32,497.69 L477.99,497.90 L479.66,498.12 L481.34,498.33 L483.02,498.55 L484.71,498.77 L486.40,498.98 L488.09,499.20 L489.79,499.41 L491.49,499.63 L493.20,499.84 L494.91,500.05 L496.63,500.27 L498.35,500.48 L500.07,500.70 L501.80,500.91 L503.53,501.12 L505.26,501.33 L507.00,501.55 L508.75,501.76 L510.49,501.97 L512.24,502.18 L514.00,502.40 L514.10,502.41 L515.76,502.63 L517.42,502.85 L519.08,503.07 L520.74,503.29 L522.41,503.51 L524.08,503.73 L525.76,503.95 L527.44,504.17 L529.12,504.39 L530.81,504.61 L532.50,504.83 L534.19,505.05 L535.89,505.27 L537.59,505.48 L539.30,505.70 L541.01,505.92 L542.72,506.14 L544.43,506.36 L546.15,506.57 L547.88,506.79 L549.60,507.01 L551.33,507.22 L553.07,507.44 L554.80,507.65 L556.54,507.87 L558.29,508.08 L560.04,508.29 L561.79,508.50 L563.54,508.72 L565.30,508.93 L567.07,509.14 L568.83,509.34 L570.60,509.55 L572.37,509.76 L574.15,509.97 L575.93,510.17 L577.72,510.38 L579.50,510.59 L581.30,510.79 L583.09,510.99 L584.89,511.20 L586.69,511.40 L588.50,511.60 L590.31,511.80 L592.12,512.00 L593.94,512.20 L595.76,512.40 L597.58,512.60 L599.41,512.79 L601.24,512.99 L603.08,513.19 L604.91,513.38 L606.76,513.58 L608.60,513.77 L610.45,513.96 L612.30,514.16 L614.16,514.35 L616.02,514.54 L617.88,514.73 L619.75,514.92 L621.62,515.11 L623.50,515.30 L625.37,515.49 L627.26,515.68 L629.14,515.87 L631.03,516.06 L632.92,516.24 L634.82,516.43 L636.72,516.62 L638.62,516.80 L640.53,516.99 L642.44,517.17 L644.35,517.36 L646.27,517.54 L648.19,517.73 L650.12,517.91 L652.05,518.10 L653.98,518.28 L655.92,518.47 L657.86,518.65 L659.80,518.83 L661.75,519.02 L663.70,519.20 L665.65,519.38 L667.61,519.57 L669.57,519.75 L671.53,519.93 L673.50,520.12 L675.47,520.30 L677.45,520.48 L679.43,520.67 L681.41,520.85 L683.40,521.04 L685.39,521.22 L687.38,521.40 L689.38,521.59 L691.38,521.77 L693.38,521.96 L695.39,522.14 L697.40,522.33 L699.42,522.52 L701.44,522.70 L703.46,522.89 L705.49,523.08 L707.52,523.27 L709.55,523.45 L711.59,523.64 L713.63,523.83 L715.67,524.02 L717.72,524.21 L719.77,524.40 L721.83,524.60 L723.89,524.79 L725.95,524.98 L728.01,525.18 L730.08,525.37 L732.16,525.57 L734.23,525.76 L736.31,525.96 L738.40,526.16 L740.48,526.36 L742.58,526.56 L744.67,526.76 L746.77,526.96 L748.87,527.16 L750.98,527.37 L753.09,527.57 L755.20,527.78 L757.32,527.98 L759.44,528.19 L761.56,528.40 L763.69,528.61 L765.82,528.82 L767.95,529.04 L770.09,529.25 L772.23,529.47 L774.38,529.68 L776.53,529.90 L778.68,530.12 L780.83,530.34 L782.99,530.56 L785.16,530.79 L787.32,531.01 L789.50,531.24 L791.67,531.47 L793.85,531.70 L796.03,531.93 L798.21,532.16 L800.40,532.40 L802.59,532.63 L804.79,532.87 L806.99,533.11 L809.19,533.35 L811.40,533.60" stroke="#f0f" stroke-width="2.4" stroke-dasharray="4.9 11.0"/>
<path d="M137.80,64.45 L137.93,64.45 L138.07,64.45 L138.22,64.90 L138.37,67.46 L138.52,70.89 L138.68,75.00 L138.85,79.59 L139.02,84.47 L139.19,89.43 L139.37,94.29 L139.55,98.84 L139.74,102.90 L139.94,106.49 L140.13,109.69 L140.34,112.59 L140.55,115.29 L140.76,117.87 L140.98,120.43 L141.20,122.98 L141.43,125.53 L141.66,128.09 L141.90,130.64 L142.14,133.20 L142.39,135.76 L142.64,138.33 L142.90,140.90 L143.16,143.48 L143.42,146.07 L143.70,148.66 L143.97,151.25 L144.25,153.84 L144.54,156.42 L144.83,158.97 L145.13,161.51 L145.43,164.01 L145.73,166.48 L146.05,168.91 L146.36,171.29 L146.68,173.61 L147.01,175.88 L147.34,178.08 L147.67,180.21 L148.01,182.26 L148.36,184.23 L148.71,186.11 L149.06,187.92 L149.42,189.65 L149.79,191.31 L150.15,192.90 L150.53,194.43 L150.91,195.90 L151.29,197.32 L151.68,198.69 L152.07,200.02 L152.47,201.31 L152.88,202.56 L153.28,203.78 L153.70,204.97 L154.12,206.15 L154.54,207.30 L154.97,208.44 L155.40,209.56 L155.84,210.67 L156.28,211.76 L156.73,212.84 L157.18,213.91 L157.64,214.97 L158.10,216.02 L158.56,217.06 L159.04,218.09 L159.51,219.11 L159.99,220.13 L160.48,221.14 L160.97,222.14 L161.47,223.14 L161.97,224.14 L162.48,225.14 L162.99,226.14 L163.50,227.14 L164.02,228.13 L164.55,229.13 L165.08,230.14 L165.61,231.14 L166.15,232.15 L166.70,233.17 L167.25,234.19 L167.80,235.22 L168.36,236.26 L168.93,237.31 L169.50,238.37 L170.07,239.43 L170.65,240.51 L171.23,241.59 L171.82,242.67 L172.42,243.77 L173.02,244.86 L173.62,245.96 L174.23,247.06 L174.84,248.16 L175.46,249.27 L176.08,250.37 L176.71,251.47 L177.34,252.56 L177.98,253.66 L178.62,254.75 L179.27,255.83 L179.92,256.91 L180.58,257.98 L181.24,259.04 L181.91,260.09 L182.58,261.14 L183.26,262.17 L183.94,263.19 L184.63,264.21 L185.32,265.21 L186.01,266.21 L186.72,267.20 L187.42,268.18 L188.13,269.15 L188.85,270.11 L189.57,271.07 L190.29,272.02 L191.02,272.97 L191.76,273.91 L192.50,274.84 L193.25,275.77 L194.00,276.69 L194.75,277.61 L195.51,278.53 L196.27,279.44 L197.04,280.34 L197.82,281.25 L198.60,282.15 L199.38,283.05 L200.17,283.94 L200.96,284.84 L201.76,285.73 L202.57,286.62 L203.38,287.51 L204.19,288.40 L205.01,289.29 L205.83,290.18 L206.66,291.06 L207.49,291.95 L208.33,292.84 L209.17,293.73 L210.02,294.62 L210.87,295.51 L211.73,296.40 L212.59,297.30 L213.46,298.19 L214.33,299.09 L215.21,299.99 L216.09,300.89 L216.98,301.79 L217.87,302.69 L218.76,303.60 L219.67,304.50 L220.57,305.42 L221.48,306.33 L222.40,307.25 L223.32,308.17 L224.24,309.09 L225.18,310.02 L226.11,310.95 L227.05,311.88 L228.00,312.82 L228.95,313.76 L229.90,314.71 L230.86,315.66 L231.83,316.62 L232.80,317.58 L233.77,318.55 L234.75,319.52 L235.73,320.50 L236.72,321.48 L237.72,322.47 L238.72,323.46 L239.72,324.46 L240.73,325.47 L241.74,326.48 L242.76,327.50 L243.78,328.53 L244.81,329.56 L245.84,330.60 L246.88,331.65 L247.93,332.71 L248.97,333.77 L250.03,334.84 L251.08,335.92 L252.15,337.01 L253.21,338.10 L254.28,339.21 L255.36,340.32 L256.44,341.44 L257.53,342.57 L258.62,343.70 L259.72,344.84 L260.82,346.00 L261.93,347.15 L263.04,348.32 L264.15,349.49 L265.27,350.67 L266.40,351.85 L267.53,353.04 L268.67,354.24 L269.81,355.44 L270.95,356.65 L272.10,357.87 L273.26,359.09 L274.42,360.31 L275.58,361.54 L276.75,362.78 L277.93,364.02 L279.11,365.27 L280.29,366.52 L281.48,367.77 L282.67,369.03 L283.87,370.30 L285.08,371.56 L286.28,372.84 L287.50,374.11 L288.72,375.39 L289.94,376.67 L291.17,377.96 L292.40,379.25 L293.64,380.54 L294.88,381.83 L296.13,383.13 L297.38,384.43 L298.64,385.73 L299.90,387.04 L301.17,388.34 L302.44,389.65 L303.72,390.96 L305.00,392.27 L306.29,393.58 L307.58,394.89 L308.88,396.21 L310.18,397.52 L311.48,398.83 L312.80,400.14 L314.11,401.45 L315.43,402.76 L316.76,404.06 L318.09,405.37 L319.43,406.67 L320.77,407.97 L322.11,409.26 L323.46,410.55 L324.82,411.84 L326.18,413.12 L327.54,414.40 L328.91,415.67 L330.29,416.93 L331.67,418.20 L333.05,419.45 L334.44,420.70 L335.83,421.94 L337.23,423.17 L338.64,424.40 L340.05,425.62 L341.46,426.83 L342.88,428.03 L344.30,429.22 L345.73,430.41 L347.16,431.58 L348.60,432.75 L350.04,433.91 L351.49,435.06 L352.95,436.20 L354.40,437.33 L355.87,438.45 L357.33,439.56 L358.81,440.67 L360.28,441.76 L361.76,442.84 L363.25,443.91 L364.74,444.98 L366.24,446.03 L367.74,447.07 L369.25,448.10 L370.76,449.12 L372.28,450.13 L373.80,451.13 L375.32,452.12 L376.85,453.09 L378.39,454.06 L379.93,455.01 L381.48,455.95 L383.03,456.88 L384.58,457.80 L386.14,458.71 L387.71,459.60 L389.28,460.48 L390.85,461.35 L392.43,462.21 L394.02,463.05 L395.61,463.88 L397.20,464.70 L398.80,465.51 L400.40,466.30 L402.01,467.08 L403.63,467.84 L405.24,468.60 L406.87,469.34 L408.50,470.08 L410.13,470.80 L411.77,471.52 L413.41,472.22 L415.06,472.92 L416.71,473.62 L418.37,474.30 L420.03,474.98 L421.70,475.66 L423.37,476.33 L425.05,477.00 L426.73,477.67 L428.42,478.34 L430.11,479.00 L431.81,479.66 L433.51,480.32 L435.22,480.98 L436.93,481.64 L438.64,482.30 L440.37,482.96 L442.09,483.61 L443.40,484.47 L444.89,484.90 L446.39,485.32 L447.89,485.75 L449.39,486.17 L450.89,486.58 L452.40,486.99 L453.92,487.40 L455.44,487.81 L456.96,488.21 L458.48,488.61 L460.01,489.00 L461.54,489.39 L463.07,489.78 L464.61,490.17 L466.16,490.55 L467.70,490.93 L469.25,491.30 L470.80,491.67 L472.36,492.04 L473.92,492.41 L475.49,492.77 L477.05,493.13 L478.62,493.48 L480.20,493.84 L481.78,494.19 L483.36,494.53 L484.95,494.88 L486.53,495.22 L488.13,495.55 L489.72,495.89 L491.32,496.22 L492.93,496.55 L494.53,496.88 L496.15,497.20 L497.76,497.52 L499.38,497.84 L501.00,498.16 L502.63,498.47 L504.25,498.78 L505.89,499.09 L507.52,499.39 L509.16,499.69 L510.81,499.99 L512.45,500.29 L514.10,500.59 L515.76,500.88 L517.42,501.17 L519.08,501.46 L520.74,501.74 L522.41,502.02 L524.08,502.31 L525.76,502.58 L527.44,502.86 L529.12,503.13 L530.81,503.41 L532.50,503.67 L534.19,503.94 L535.89,504.21 L537.59,504.47 L539.30,504.73 L541.01,504.99 L542.72,505.25 L544.43,505.50 L546.15,505.76 L547.88,506.01 L549.60,506.26 L551.33,506.50 L553.07,506.75 L554.80,506.99 L556.54,507.23 L558.29,507.47 L560.04,507.71 L561.79,507.95 L563.54,508.19 L565.30,508.42 L567.07,508.65 L568.83,508.88 L570.60,509.11 L572.37,509.34 L574.15,509.56 L575.93,509.79 L577.72,510.01 L579.50,510.23 L581.30,510.45 L583.09,510.67 L584.89,510.89 L586.69,511.10 L588.50,511.32 L590.31,511.53 L592.12,511.74 L593.94,511.95 L595.76,512.16 L597.58,512.37 L599.41,512.58 L601.24,512.78 L603.08,512.99 L604.91,513.19 L606.76,513.40 L608.60,513.60 L610.45,513.80 L612.30,514.00 L614.16,514.20 L616.02,514.40 L617.88,514.59 L619.75,514.79 L621.62,514.99 L623.50,515.18 L625.37,515.38 L627.26,515.57 L629.14,515.76 L631.03,515.96 L632.92,516.15 L634.82,516.34 L636.72,516.53 L638.62,516.72 L640.53,516.91 L642.44,517.10 L644.35,517.29 L646.27,517.48 L648.19,517.66 L650.12,517.85 L652.05,518.04 L653.98,518.23 L655.92,518.41 L657.86,518.60 L659.80,518.79 L661.75,518.97 L663.70,519.16 L665.65,519.34 L667.61,519.53 L669.57,519.71 L671.53,519.90 L673.50,520.08 L675.47,520.27 L677.45,520.45 L679.43,520.64 L681.41,520.82 L683.40,521.01 L685.39,521.19 L687.38,521.38 L689.38,521.57 L691.38,521.75 L693.38,521.94 L695.39,522.12 L697.40,522.31 L699.42,522.50 L701.44,522.69 L703.46,522.87 L705.49,523.06 L707.52,523.25 L709.55,523.44 L711.59,523.63 L713.63,523.82 L715.67,524.01 L717.72,524.20 L719.77,524.39 L721.83,524.59 L723.89,524.78 L725.95,524.97 L728.01,525.17 L730.08,525.36 L732.16,525.56 L734.23,525.76 L736.31,525.95 L738.40,526.15 L740.48,526.35 L742.58,526.55 L744.67,526.75 L746.77,526.95 L748.87,527.16 L750.98,527.36 L753.09,527.57 L755.20,527.77 L757.32,527.98 L759.44,528.19 L761.56,528.40 L763.69,528.61 L765.82,528.82 L767.95,529.03 L770.09,529.25 L772.23,529.46 L774.38,529.68 L776.53,529.90 L778.68,530.12 L780.83,530.34 L782.99,530.56 L785.16,530.79 L787.32,531.01 L789.50,531.24 L791.67,531.47 L793.85,531.70 L796.03,531.93 L798.21,532.16 L800.40,532.40 L802.59,532.63 L804.79,532.87 L806.99,533.11 L809.19,533.35 L811.40,533.60" stroke="#f0f" stroke-width="2.4"/>
<path d="M137.80,64.85 L137.93,64.85 L138.07,64.85 L138.22,65.30 L138.37,67.86 L138.52,71.29 L138.68,75.40 L138.85,79.99 L139.02,84.87 L139.19,89.83 L139.37,94.69 L139.55,99.24 L139.74,103.30 L139.94,106.89 L140.13,110.09 L140.34,112.99 L140.55,115.69 L140.76,118.27 L140.98,120.83 L141.20,123.38 L141.43,125.93 L141.66,128.49 L141.90,131.04 L142.14,133.60 L142.39,136.16 L142.64,138.73 L142.90,141.30 L143.16,143.88 L143.42,146.47 L143.70,149.06 L143.97,151.65 L144.25,154.24 L144.54,156.82 L144.83,159.37 L145.13,161.91 L145.43,164.41 L145.73,166.88 L146.05,169.31 L146.36,171.69 L146.68,174.01 L147.01,176.28 L147.34,178.48 L147.67,180.61 L148.01,182.66 L148.36,184.63 L148.71,186.51 L149.06,188.32 L149.42,190.05 L149.79,191.71 L150.15,193.30 L150.53,194.83 L150.91,196.30 L151.29,197.72 L151.68,199.09 L152.07,200.42 L152.47,201.71 L152.88,202.96 L153.28,204.18 L153.70,205.37 L154.12,206.55 L154.54,207.70 L154.97,208.84 L155.40,209.96 L155.84,211.07 L156.28,212.16 L156.73,213.24 L157.18,214.31 L157.64,215.37 L158.10,216.42 L158.56,217.46 L159.04,218.49 L159.51,219.51 L159.99,220.53 L160.48,221.54 L160.97,222.54 L161.47,223.54 L161.97,224.54 L162.48,225.54 L162.99,226.54 L163.50,227.54 L164.02,228.53 L164.55,229.53 L165.08,230.54 L165.61,231.54 L166.15,232.55 L166.70,233.57 L167.25,234.59 L167.80,235.62 L168.36,236.66 L168.93,237.71 L169.50,238.77 L170.07,239.83 L170.65,240.91 L171.23,241.99 L171.82,243.07 L172.42,244.17 L173.02,245.26 L173.62,246.36 L174.23,247.46 L174.84,248.56 L175.46,249.67 L176.08,250.77 L176.71,251.87 L177.34,252.96 L177.98,254.06 L178.62,255.15 L179.27,256.23 L179.92,257.31 L180.58,258.38 L181.24,259.44 L181.91,260.49 L182.58,261.54 L183.26,262.57 L183.94,263.59 L184.63,264.61 L185.32,265.61 L186.01,266.61 L186.72,267.60 L187.42,268.58 L188.13,269.55 L188.85,270.51 L189.57,271.47 L190.29,272.42 L191.02,273.37 L191.76,274.31 L192.50,275.24 L193.25,276.17 L194.00,277.09 L194.75,278.01 L195.51,278.93 L196.27,279.84 L197.04,280.74 L197.82,281.65 L198.60,282.55 L199.38,283.45 L200.17,284.34 L200.96,285.24 L201.76,286.13 L202.57,287.02 L203.38,287.91 L204.19,288.80 L205.01,289.69 L205.83,290.58 L206.66,291.46 L207.49,292.35 L208.33,293.24 L209.17,294.13 L210.02,295.02 L210.87,295.91 L211.73,296.80 L212.59,297.70 L213.46,298.59 L214.33,299.49 L215.21,300.39 L216.09,301.29 L216.98,302.19 L217.87,303.09 L218.76,304.00 L219.67,304.90 L220.57,305.82 L221.48,306.73 L222.40,307.65 L223.32,308.57 L224.24,309.49 L225.18,310.42 L226.11,311.35 L227.05,312.28 L228.00,313.22 L228.95,314.16 L229.90,315.11 L230.86,316.06 L231.83,317.02 L232.80,317.98 L233.77,318.95 L234.75,319.92 L235.73,320.90 L236.72,321.88 L237.72,322.87 L238.72,323.86 L239.72,324.86 L240.73,325.87 L241.74,326.88 L242.76,327.90 L243.78,328.93 L244.81,329.96 L245.84,331.00 L246.88,332.05 L247.93,333.11 L248.97,334.17 L250.03,335.24 L251.08,336.32 L252.15,337.41 L253.21,338.50 L254.28,339.61 L255.36,340.72 L256.44,341.84 L257.53,342.97 L258.62,344.10 L259.72,345.24 L260.82,346.40 L261.93,347.55 L263.04,348.72 L264.15,349.89 L265.27,351.07 L266.40,352.25 L267.53,353.44 L268.67,354.64 L269.81,355.84 L270.95,357.05 L272.10,358.27 L273.26,359.49 L274.42,360.71 L275.58,361.94 L276.75,363.18 L277.93,364.42 L279.11,365.67 L280.29,366.92 L281.48,368.17 L282.67,369.43 L283.87,370.70 L285.08,371.96 L286.28,373.24 L287.50,374.51 L288.72,375.79 L289.94,377.07 L291.17,378.36 L292.40,379.65 L293.64,380.94 L294.88,382.23 L296.13,383.53 L297.38,384.83 L298.64,386.13 L299.90,387.44 L301.17,388.74 L302.44,390.05 L303.72,391.36 L305.00,392.67 L306.29,393.98 L307.58,395.29 L308.88,396.61 L310.18,397.92 L311.48,399.23 L312.80,400.54 L314.11,401.85 L315.43,403.16 L316.76,404.46 L318.09,405.77 L319.43,407.07 L320.77,408.37 L322.11,409.66 L323.46,410.95 L324.82,412.24 L326.18,413.52 L327.54,414.80 L328.91,416.07 L330.29,417.33 L331.67,418.60 L333.05,419.85 L334.44,421.10 L335.83,422.34 L337.23,423.57 L338.64,424.80 L340.05,426.02 L341.46,427.23 L342.88,428.43 L344.30,429.62 L345.73,430.81 L347.16,431.98 L348.60,433.15 L350.04,434.31 L351.49,435.46 L352.95,436.60 L354.40,437.73 L355.87,438.85 L357.33,439.96 L358.81,441.07 L360.28,442.16 L361.76,443.24 L363.25,444.31 L364.74,445.38 L366.24,446.43 L367.74,447.47 L369.25,448.50 L370.76,449.52 L372.28,450.53 L373.80,451.53 L375.32,452.52 L376.85,453.49 L378.39,454.46 L379.93,455.41 L381.48,456.35 L383.03,457.28 L384.58,458.20 L386.14,459.11 L387.71,460.00 L389.28,460.88 L390.85,461.75 L392.43,462.61 L394.02,463.45 L395.61,464.28 L397.20,465.10 L398.80,465.91 L400.40,466.70 L402.01,467.48 L403.63,468.24 L405.24,469.00 L406.87,469.74 L408.50,470.48 L410.13,471.20 L411.77,471.92 L413.41,472.62 L415.06,473.32 L416.71,474.02 L418.37,474.70 L420.03,475.38 L421.70,476.06 L423.37,476.73 L425.05,477.40 L426.73,478.07 L428.42,478.74 L430.11,479.40 L431.81,480.06 L433.51,480.72 L435.22,481.38 L436.93,482.04 L438.64,482.70 L440.37,483.36 L442.09,484.01 L443.82,484.67 L445.56,485.32 L447.30,485.97 L449.05,486.62 L450.80,487.26 L452.55,487.91 L454.31,488.55 L456.08,489.19 L457.85,489.83 L459.62,490.47 L461.40,491.10 L463.19,491.73 L464.98,492.36 L466.77,492.99 L468.57,493.61 L470.37,494.23 L472.18,494.85 L474.00,495.47 L475.82,496.08 L477.64,496.69 L479.47,497.30 L481.30,497.90 L483.14,498.50 L484.98,499.10 L486.83,499.69 L488.68,500.28 L490.54,500.87 L492.40,501.45 L494.27,502.03 L496.15,502.61 L498.02,503.18 L499.90,503.75 L501.79,504.31 L503.68,504.88 L505.58,505.43 L507.48,505.98 L509.39,506.53 L511.30,507.08 L513.22,507.62 L515.14,508.16 L517.07,508.69 L519.00,509.22 L520.93,509.75 L522.87,510.27 L524.82,510.79 L526.77,511.31 L528.72,511.82 L530.69,512.33 L532.65,512.84 L534.62,513.34 L536.60,513.84 L538.58,514.34 L540.56,514.83 L542.55,515.32 L544.54,515.81 L546.54,516.29 L548.55,516.77 L550.56,517.25 L552.57,517.72 L554.59,518.19 L556.61,518.66 L558.64,519.13 L560.68,519.59 L562.72,520.05 L564.76,520.51 L566.81,520.97 L568.86,521.42 L570.92,521.87 L572.98,522.31 L575.05,522.76 L577.12,523.20 L579.20,523.64 L581.28,524.08 L583.37,524.51 L585.46,524.95 L587.56,525.38 L589.66,525.80 L591.77,526.23 L593.88,526.65 L596.00,527.08 L598.12,527.49 L600.24,527.91 L602.37,528.33 L604.51,528.74 L606.65,529.15 L608.80,529.56 L610.95,529.97 L613.10,530.38 L615.26,530.78 L617.43,531.18 L619.60,531.58 L621.77,531.98 L623.95,532.38 L626.14,532.77 L628.33,533.17 L630.52,533.56 L632.72,533.95 L634.93,534.34 L637.14,534.73 L639.35,535.12 L641.57,535.50 L643.79,535.89 L646.02,536.27 L648.26,536.65 L650.50,537.04 L652.74,537.42 L654.99,537.79 L657.24,538.17 L659.50,538.55 L661.76,538.93 L664.03,539.30 L666.30,539.67 L668.58,540.05 L670.86,540.42 L673.15,540.79 L675.44,541.16 L677.74,541.53 L680.04,541.90 L682.35,542.27 L684.66,542.64 L686.98,543.01 L689.30,543.38 L691.63,543.74 L693.96,544.11 L696.29,544.48 L698.63,544.84 L700.98,545.21 L703.33,545.58 L705.69,545.94 L708.05,546.31 L710.41,546.67 L712.78,547.04 L715.16,547.40 L717.54,547.77 L719.92,548.13 L722.31,548.50 L724.71,548.86 L727.11,549.23 L729.51,549.60 L731.92,549.96 L734.34,550.33 L736.75,550.70 L739.18,551.06 L741.61,551.43 L744.04,551.80 L746.48,552.17 L748.92,552.53 L751.37,552.90 L753.83,553.27 L756.28,553.65 L758.75,554.02 L761.22,554.39 L763.69,554.76 L766.17,555.14 L768.65,555.51 L771.14,555.89 L773.63,556.26 L776.13,556.64 L778.63,557.02 L781.13,557.40 L783.65,557.78 L786.16,558.16 L788.69,558.54 L791.21,558.93 L793.74,559.31 L796.28,559.70 L798.82,560.09 L801.37,560.47 L803.92,560.87 L806.47,561.26 L809.03,561.65 L811.60,562.05" stroke="#00f" stroke-width="2.4"/>
</g>
<text x="250.33" y="747" font-size="46.4" textLength="43.15" lengthAdjust="spacingAndGlyphs">10</text>
<text x="385.14" y="747" font-size="46.4" textLength="43.15" lengthAdjust="spacingAndGlyphs">20</text>
<text x="519.95" y="747" font-size="46.4" textLength="43.15" lengthAdjust="spacingAndGlyphs">30</text>
<text x="654.76" y="747" font-size="46.4" textLength="43.15" lengthAdjust="spacingAndGlyphs">40</text>
<text x="789.57" y="747" font-size="46.4" textLength="43.15" lengthAdjust="spacingAndGlyphs">50</text>
<text x="80.25" y="72.06" font-size="46.4" textLength="43.15" lengthAdjust="spacingAndGlyphs">15</text>
<text x="80.25" y="256.03" font-size="46.4" textLength="43.15" lengthAdjust="spacingAndGlyphs">20</text>
<text x="80.25" y="439.31" font-size="46.4" textLength="43.15" lengthAdjust="spacingAndGlyphs">25</text>
<text x="80.25" y="622.59" font-size="46.4" textLength="43.15" lengthAdjust="spacingAndGlyphs">30</text>
<text x="207.43" y="806.60" font-size="43" textLength="533.88" lengthAdjust="spacingAndGlyphs">Deprojected Radius (arcmin)</text>
<text transform="translate(36.0,695.8) rotate(-90)" font-size="45.3">Surf. Brightness (V-band mag arcsec</text>
<text transform="translate(13.4,30.6) rotate(-90)" font-size="21">-2</text>
<text transform="translate(36.0,14.3) rotate(-90)" font-size="45.3">)</text>
<text x="412.95" y="91.40" font-size="36.6" textLength="173.86" lengthAdjust="spacingAndGlyphs" word-spacing="-1.7">Sersic bulge</text>
<text x="369.11" y="128.90" font-size="36.6" textLength="216.29" lengthAdjust="spacingAndGlyphs" word-spacing="-1.7">Exp. inner disk</text>
<text x="430.17" y="166.30" font-size="36.6" textLength="157.05" lengthAdjust="spacingAndGlyphs" word-spacing="-1.7">Hern. halo</text>
<text x="483.90" y="204.00" font-size="36.6" textLength="101.81" lengthAdjust="spacingAndGlyphs" word-spacing="-1.7">Total 1</text>
<text x="430.17" y="241.40" font-size="36.6" textLength="157.05" lengthAdjust="spacingAndGlyphs" word-spacing="-1.7">Hern. halo</text>
<text x="483.90" y="279.10" font-size="36.6" textLength="103.23" lengthAdjust="spacingAndGlyphs" word-spacing="-1.7">Total 2</text>
<g stroke-width="2.4" fill="none">
<path d="M610.5,82.1 H751.8" stroke="#000" stroke-dasharray="45.9 22.7"/>
<path d="M610.5,119.6 H751.8" stroke="#ffa500" stroke-dasharray="23.3 22.6"/>
<path d="M610.5,157.1 H751.8" stroke="#00f" stroke-dasharray="23.3 11 6.1 11"/>
<path d="M610.5,194.6 H751.8" stroke="#00f"/>
<path d="M610.5,231.95 H751.8" stroke="#f0f" stroke-dasharray="4.9 11.1"/>
<path d="M610.5,269.6 H751.8" stroke="#f0f"/>
</g>
</svg>
</body></html>
